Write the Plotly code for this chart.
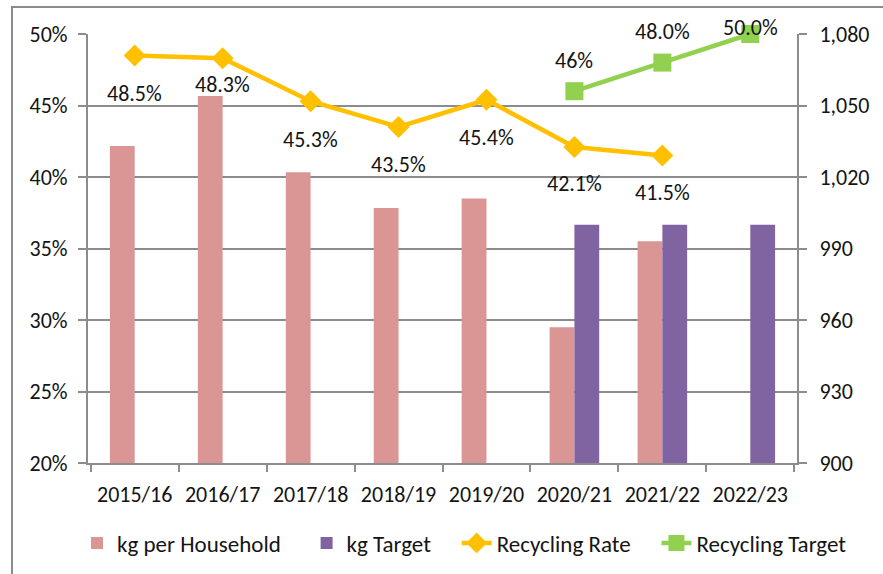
import plotly.graph_objects as go

categories = ["2015/16", "2016/17", "2017/18", "2018/19", "2019/20", "2020/21", "2021/22", "2022/23"]
kg_per_household = [1033, 1054, 1022, 1007, 1011, 957, 993, None]
kg_target = [None, None, None, None, None, 1000, 1000, 1000]
recycling_rate = [0.485, 0.483, 0.453, 0.435, 0.454, 0.421, 0.415, None]
recycling_target = [None, None, None, None, None, 0.46, 0.48, 0.50]
rate_labels = ["48.5%", "48.3%", "45.3%", "43.5%", "45.4%", "42.1%", "41.5%", None]
target_labels = [None, None, None, None, None, "46%", "48.0%", "50.0%"]
series_names = ["kg per Household", "kg Target", "Recycling Rate", "Recycling Target"]

# label offsets (style only)
rate_label_shift = [-38, -26, -38, -38, -38, -37, -37, 0]
target_label_shift = [0, 0, 0, 0, 0, 31, 31, 7]

FONT = "Calibri, Carlito, Lato, sans-serif"
FS = 22
TXT = "#141414"
GRID = "#8c8c8c"
PAD = "\u00a0" * 4  # extra spacing between legend entries

fig = go.Figure()
fig.add_trace(go.Bar(name=series_names[0] + PAD, x=categories, y=kg_per_household,
                     marker=dict(color="#D99694", line=dict(width=0)), yaxis="y"))
fig.add_trace(go.Bar(name=series_names[1] + PAD, x=categories, y=kg_target,
                     marker=dict(color="#8064A2", line=dict(width=0)), yaxis="y"))
fig.add_trace(go.Scatter(name=series_names[2] + PAD, x=categories, y=recycling_rate, yaxis="y2",
                         mode="lines+markers", cliponaxis=False,
                         line=dict(color="#FFC000", width=4.5),
                         marker=dict(symbol="diamond", size=17, color="#FFC000")))
fig.add_trace(go.Scatter(name=series_names[3], x=categories, y=recycling_target, yaxis="y2",
                         mode="lines+markers", cliponaxis=False,
                         line=dict(color="#92D050", width=4.5),
                         marker=dict(symbol="square", size=18, color="#92D050")))

annotations = []
for c, v, t, s in zip(categories, recycling_rate, rate_labels, rate_label_shift):
    if v is not None and t:
        annotations.append(dict(x=c, y=v, yref="y2", text=t, showarrow=False, yshift=s,
                                font=dict(family=FONT, size=FS, color=TXT)))
for c, v, t, s in zip(categories, recycling_target, target_labels, target_label_shift):
    if v is not None and t:
        annotations.append(dict(x=c, y=v, yref="y2", text=t, showarrow=False, yshift=s,
                                font=dict(family=FONT, size=FS, color=TXT)))

W, H = 883, 574
L, R, T, B = 88, 86, 34, 111
pw, ph = W - L - R, H - T - B

def px(xp):
    return (xp - L) / pw

def py(yp):
    return (H - B - yp) / ph

fig.update_layout(
    width=W, height=H,
    margin=dict(l=L, r=R, t=T, b=B, autoexpand=False),
    paper_bgcolor="white", plot_bgcolor="white",
    font=dict(family=FONT, size=FS, color=TXT),
    barmode="group", bargap=0.436, bargroupgap=0,
    showlegend=True,
    legend=dict(orientation="h", x=px(77), xanchor="left", y=py(543), yanchor="middle",
                font=dict(family=FONT, size=23, color=TXT), itemwidth=30,
                bgcolor="rgba(0,0,0,0)", traceorder="normal", tracegroupgap=0),
    xaxis=dict(type="category", showline=True, linecolor=GRID, linewidth=2,
               ticks="outside", ticklen=7, tickwidth=2, tickcolor=GRID,
               tickson="boundaries", showgrid=False, ticklabelstandoff=11,
               tickfont=dict(family=FONT, size=FS, color=TXT)),
    yaxis=dict(side="right", range=[900, 1080], dtick=30, tick0=900, tickformat=",",
               showline=True, linecolor=GRID, linewidth=2, ticks="outside", ticklen=8,
               tickwidth=2, tickcolor=GRID, showgrid=True, gridcolor=GRID, gridwidth=2,
               zeroline=False, ticklabelstandoff=8,
               tickfont=dict(family=FONT, size=FS, color=TXT)),
    yaxis2=dict(side="left", overlaying="y", range=[0.20, 0.50], dtick=0.05, tick0=0.20,
                tickformat=".0%", showline=True, linecolor=GRID, linewidth=2,
                ticks="outside", ticklen=8, tickwidth=2, tickcolor=GRID, showgrid=False,
                zeroline=False, ticklabelstandoff=6,
                tickfont=dict(family=FONT, size=FS, color=TXT)),
    annotations=annotations,
    shapes=[dict(type="rect", xref="paper", yref="paper",
                 x0=px(12), x1=px(W + 50), y0=py(H + 50), y1=py(7),
                 line=dict(color=GRID, width=2), fillcolor="rgba(0,0,0,0)", layer="below")],
)

fig.write_html("out.html", config={"displayModeBar": False},
               post_script="document.body.style.margin='0';document.body.style.overflow='hidden';")
